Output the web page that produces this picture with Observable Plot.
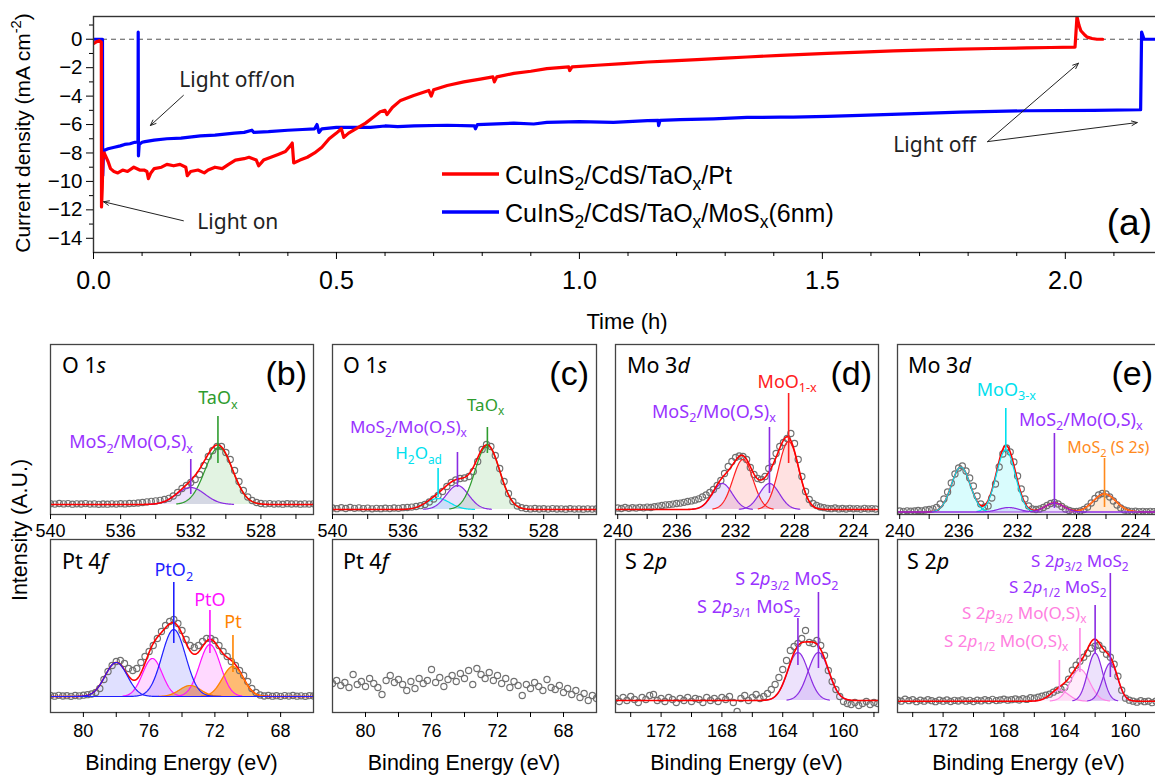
<!DOCTYPE html>
<html><head><meta charset="utf-8">
<script src="https://cdn.jsdelivr.net/npm/d3@7"></script>
<script src="https://cdn.jsdelivr.net/npm/@observablehq/plot@0.6"></script>
<style>
html,body{margin:0;padding:0;background:#fff;overflow:hidden}
#fig{position:relative;width:1155px;height:775px;overflow:hidden;background:#fff}
</style></head><body><div id="fig"></div>
<script>
// ================= DATA =================
// (a) photocurrent vs time  [time (h), current density (mA cm-2)]
const seriesNames = ["CuInS_{2}/CdS/TaO_{x}/Pt", "CuInS_{2}/CdS/TaO_{x}/MoS_{x}(6nm)"];
const ptSeries = [[0,-0.3],[0.005,-0.2],[0.012,-0.1],[0.016,-0.2],[0.0165,-11.8],[0.018,-10.5],[0.0195,-8.1],[0.022,-8.0],[0.03,-8.6],[0.035,-9.1],[0.042,-9.3],[0.05,-9.4],[0.06,-9.2],[0.07,-9.3],[0.083,-9.0],[0.095,-9.2],[0.104,-9.2],[0.11,-9.3],[0.113,-9.8],[0.118,-9.4],[0.125,-9.1],[0.14,-9.0],[0.151,-8.8],[0.165,-8.9],[0.178,-8.8],[0.19,-9.0],[0.193,-9.6],[0.2,-9.3],[0.215,-9.2],[0.228,-9.4],[0.236,-9.2],[0.25,-9.0],[0.265,-9.1],[0.278,-8.8],[0.292,-8.5],[0.31,-8.4],[0.32,-8.3],[0.335,-8.5],[0.34,-8.9],[0.35,-8.5],[0.365,-8.3],[0.38,-8.1],[0.395,-7.9],[0.405,-7.5],[0.409,-7.3],[0.412,-8.7],[0.425,-8.5],[0.44,-8.3],[0.455,-8.0],[0.47,-7.6],[0.485,-7.0],[0.5,-6.6],[0.51,-6.3],[0.515,-6.9],[0.525,-6.6],[0.545,-6.2],[0.56,-5.9],[0.575,-5.5],[0.59,-5.1],[0.6,-5.0],[0.604,-5.3],[0.615,-4.8],[0.632,-4.3],[0.659,-3.95],[0.69,-3.6],[0.695,-4.0],[0.7,-3.55],[0.728,-3.25],[0.762,-3.0],[0.796,-2.8],[0.822,-2.65],[0.825,-3.0],[0.83,-2.65],[0.865,-2.4],[0.9,-2.25],[0.933,-2.07],[0.978,-1.95],[0.98,-2.2],[0.985,-1.95],[1.036,-1.83],[1.09,-1.72],[1.14,-1.6],[1.19,-1.52],[1.242,-1.43],[1.3,-1.33],[1.345,-1.25],[1.414,-1.13],[1.51,-1.0],[1.58,-0.9],[1.646,-0.82],[1.72,-0.75],[1.784,-0.7],[1.85,-0.65],[1.921,-0.61],[1.97,-0.58],[2.02,-0.55],[2.024,1.6],[2.028,1.0],[2.032,0.6],[2.04,0.3],[2.045,0.15],[2.055,0.05],[2.065,0.0],[2.077,0.0]];
const moSeries = [[0,0],[0.005,0],[0.012,0],[0.0185,0],[0.019,-9.6],[0.0205,-8.0],[0.0226,-7.8],[0.03,-7.7],[0.043,-7.6],[0.055,-7.5],[0.064,-7.4],[0.075,-7.35],[0.085,-7.25],[0.0915,-7.2],[0.092,0.5],[0.0925,-8.2],[0.094,-7.4],[0.1,-7.25],[0.106,-7.2],[0.125,-7.1],[0.151,-7.0],[0.18,-6.95],[0.22,-6.8],[0.25,-6.75],[0.29,-6.6],[0.31,-6.55],[0.326,-6.4],[0.33,-6.55],[0.36,-6.5],[0.4,-6.4],[0.43,-6.35],[0.455,-6.3],[0.46,-6.0],[0.464,-6.55],[0.47,-6.3],[0.5,-6.2],[0.53,-6.2],[0.57,-6.2],[0.6,-6.1],[0.626,-6.14],[0.66,-6.1],[0.728,-6.05],[0.784,-6.1],[0.786,-6.3],[0.79,-6.0],[0.865,-5.9],[0.906,-5.96],[0.933,-5.85],[1.0,-5.8],[1.07,-5.85],[1.14,-5.72],[1.162,-5.7],[1.163,-6.07],[1.166,-5.7],[1.207,-5.66],[1.276,-5.6],[1.345,-5.5],[1.414,-5.48],[1.44,-5.48],[1.51,-5.43],[1.578,-5.36],[1.674,-5.25],[1.784,-5.13],[1.921,-5.03],[2.058,-5.0],[2.155,-4.96],[2.157,0.5],[2.162,0.0],[2.2,0.0]];
const timeMajor = [0, 0.5, 1.0, 1.5, 2.0];
const timeMinor = [0.1,0.2,0.3,0.4,0.6,0.7,0.8,0.9,1.1,1.2,1.3,1.4,1.6,1.7,1.8,1.9,2.1];
const currentMajor = [0,-2,-4,-6,-8,-10,-12,-14];
const currentMinor = [1,-1,-3,-5,-7,-9,-11,-13];
const lightNotes = [{t:0.296,j:-2.9,text:"Light off/on"},{t:0.297,j:-12.9,text:"Light on"},{t:1.731,j:-7.48,text:"Light off"}];
const lightArrows = [{t1:0.185,j1:-3.95,t2:0.117,j2:-6.07},{t1:0.185,j1:-12.77,t2:0.0206,j2:-11.43},{t1:1.84,j1:-7.2,t2:2.027,j2:-1.69},{t1:1.84,j1:-7.2,t2:2.148,j2:-5.86}];

// XPS measured intensities (arb. units above baseline), on the instrument energy grid
const bO1sIntensity = [0.8,0.4,1.0,0.6,0.9,0.3,0.7,0.5,0.9,0.4,0.6,0.2,0.5,0.3,0.7,0.4,0.8,0.6,1.0,1.2,1.5,2.0,2.6,3.1,3.6,4.2,5.0,6.2,8.5,12,16,19,22,25,30,39,48,54,58,58,52,45,34,23,14,7.5,4,2,1.0,0.6,0.9,0.4,0.7,0.3,0.8,0.5,0.7,0.3,0.6,0.4,0.7];
const cO1sIntensity = [1.5,0.8,1.8,1.0,2.0,1.2,1.6,0.9,1.4,0.7,1.2,0.8,1.3,0.9,1.5,1.2,1.8,2.0,2.4,3.0,3.8,5.0,7.5,10.5,14,18,23,27,29.5,31,31.5,33,38,48,60,65,63,54,41,28,16,8,3.5,1.8,1.0,0.6,1.0,0.5,0.8,0.4,0.9,0.5,0.7,0.3,0.8,0.4,0.6,0.3,0.7,0.4,0.6];
const dMo3dIntensity = [1.5,1.0,2.0,1.2,1.8,1.4,2.2,1.6,2.4,2.0,2.8,3.4,4.0,4.6,4.9,5.4,6.0,6.4,7.2,8.0,8.6,9.5,10.7,12.5,14.5,17,20,24,29,36,43,48,52,53.5,53,50,42,35,31,30,33,41,48,56,63,67,71,76,66,50,33,18,10,6,4,2.5,1.8,1.2,0.8,1.5,0.6,1.0,0.5,1.2,0.7,0.9,0.4,1.1,0.6,0.9,0.5];
const eMo3dIntensity = [1.0,0.6,1.2,0.8,1.0,1.5,1.2,2.0,2.5,3.2,4.5,8,13,20,29,38,44,46,41,34,26,16,8,5,6,14,28,45,58,64,60,50,36,23,13,6,3,2.5,3,4.5,6.5,8.5,9.5,8,5.5,3,1.5,0.5,0.5,1.0,2.5,5,9,13.5,17,18.5,18,15,11,7,4,2,1,0.6,0.8,0.4,0.7,0.3,0.6,0.4,0.8];
const bPt4fIntensity = [1.0,0.3,1.2,0.5,0.8,0.2,1.0,0.6,1.3,1.8,2.5,4.0,8,17,25,31,35,36,33,28,26,28,34,40,45,51,58,65,71,75,77,73,66,57,51,49,51,55,58,58,56,51,45,40,35,31,26,21,15,8,4,1.5,0.5,1.0,0.3,0.8,0.2,0.9,0.4,1.0,0.3,0.7,0.2,0.8,0.5];
const cPt4fIntensity = [13,16,11,14,9,22,12,15,10,18,13,9,2,16,21,14,17,12,6,15,8,18,13,16,27,14,19,10,17,21,15,23,18,26,12,28,22,18,24,16,21,13,18,9,15,11,1,12,8,14,10,6,17,9,7,11,4,8,2,6,-1,3,-4,1,-2];
const dS2pIntensity = [2,-1,3,0,4,1,-2,3,1,5,6,0,2,-1,3,1,-2,2,0,3,-1,2,1,-2,3,0,2,-1,3,1,4,-2,-11,2,5,0,3,6,2,4,7,11,16,23,31,40,50,54,57,62,70,58,57,60,55,45,30,19,11,4,-1,-3,-4,-2,-5,-3,-1,-4,-2,-3];
const eS2pIntensity = [1,0,2,0.5,1.5,-0.5,1,0,1.5,0.5,-0.5,1,0,1.2,-0.3,0.8,0.2,1.4,0,0.9,-0.4,1,0.3,1.5,0.5,1.8,0.6,1.2,2,1,1.5,2.2,1.2,2.5,1.8,3.5,3,4,5,6,7,9,11,12,14,22,31,36,40,44,48,53,55,56,52,47,44,37,25,11,3,1,0,-1,0.5,-0.5,0,-1.5,0,-1];

// fitted components: center (eV), height, FWHM (eV)
const bO1sPeaks = [{species:"TaOx",center:530.4,height:57,fwhm:1.85},{species:"MoS2/Mo(O,S)x",center:532.0,height:17,fwhm:1.9}];
const cO1sPeaks = [{species:"H2Oad",center:534.0,height:11,fwhm:1.6},{species:"MoS2/Mo(O,S)x",center:532.9,height:24,fwhm:1.5},{species:"TaOx",center:531.2,height:64,fwhm:1.65}];
const dMo3dPeaks = [{species:"MoS2/Mo(O,S)x",center:232.9,height:26,fwhm:1.6},{species:"MoO1-x",center:231.5,height:50,fwhm:1.6},{species:"MoS2/Mo(O,S)x",center:229.7,height:26,fwhm:1.6},{species:"MoO1-x",center:228.4,height:68,fwhm:1.6}];
const eMo3dPeaks = [{species:"MoO3-x",center:235.85,height:45,fwhm:1.5},{species:"MoO3-x",center:232.8,height:62,fwhm:1.5},{species:"MoS2 (S 2s)",center:226.1,height:18,fwhm:1.8},{species:"MoS2/Mo(O,S)x",center:232.6,height:4.5,fwhm:1.6},{species:"MoS2/Mo(O,S)x",center:229.5,height:9,fwhm:1.5}];
const bPt4fPeaks = [{species:"PtO",center:72.3,height:52,fwhm:1.5},{species:"PtO",center:75.8,height:38,fwhm:1.4},{species:"Pt",center:70.9,height:30,fwhm:1.5},{species:"Pt",center:73.5,height:11,fwhm:1.5},{species:"PtO2",center:74.5,height:67,fwhm:1.7},{species:"PtO2",center:78.0,height:34,fwhm:1.6}];
const cPt4fPeaks = [];
const dS2pPeaks = [{species:"S2p MoS2",center:163.0,height:48,fwhm:1.6},{species:"S2p MoS2",center:161.65,height:48,fwhm:1.6}];
const eS2pPeaks = [{species:"S2p Mo(O,S)x",center:164.35,height:11,fwhm:1.4},{species:"S2p Mo(O,S)x",center:163.0,height:32,fwhm:1.5},{species:"S2p MoS2",center:162.0,height:48,fwhm:1.15},{species:"S2p MoS2",center:161.0,height:38,fwhm:1.15}];

// peak assignments (marker line energy and extent, label text)
const bO1sMarkers = [{species:"TaOx",e:530.45,y1:41,y2:88},{species:"MoS2/Mo(O,S)x",e:532.0,y1:10,y2:45}];
const bO1sLabels = [{species:"TaOx",e:530.45,y:106,text:"TaO_{x}"},{species:"MoS2/Mo(O,S)x",e:535.4,y:62,text:"MoS_{2}/Mo(O,S)_{x}"}];
const cO1sMarkers = [{species:"TaOx",e:531.2,y1:56,y2:82},{species:"MoS2/Mo(O,S)x",e:532.9,y1:22,y2:57},{species:"H2Oad",e:534.0,y1:12,y2:41}];
const cO1sLabels = [{species:"TaOx",e:531.3,y:104,text:"TaO_{x}"},{species:"MoS2/Mo(O,S)x",e:535.69,y:82,text:"MoS_{2}/Mo(O,S)_{x}"},{species:"H2Oad",e:535.11,y:55.5,text:"H_{2}O_{ad}"}];
const dMo3dMarkers = [{species:"MoO1-x",e:228.4,y1:46,y2:116},{species:"MoS2/Mo(O,S)x",e:229.7,y1:16,y2:82}];
const dMo3dLabels = [{species:"MoO1-x",e:228.5,y:127.5,text:"MoO_{1-x}"},{species:"MoS2/Mo(O,S)x",e:233.47,y:97.5,text:"MoS_{2}/Mo(O,S)_{x}"}];
const eMo3dMarkers = [{species:"MoO3-x",e:232.8,y1:61.5,y2:103.5},{species:"MoS2/Mo(O,S)x",e:229.5,y1:3.5,y2:78.5},{species:"MoS2 (S 2s)",e:226.1,y1:4.5,y2:53.5}];
const eMo3dLabels = [{species:"MoO3-x",e:232.76,y:122,text:"MoO_{3-x}"},{species:"MoS2/Mo(O,S)x",e:227.71,y:92,text:"MoS_{2}/Mo(O,S)_{x}"},{species:"MoS2 (S 2s)",e:228.63,y:64.5,text:"MoS_{2} (S 2*{s})",align:"start"}];
const bPt4fMarkers = [{species:"PtO2",e:74.5,y1:53,y2:114},{species:"PtO",e:72.3,y1:43,y2:86},{species:"Pt",e:70.9,y1:24,y2:61}];
const bPt4fLabels = [{species:"PtO2",e:74.5,y:126,text:"PtO_{2}"},{species:"PtO",e:72.3,y:96,text:"PtO"},{species:"Pt",e:70.9,y:74,text:"Pt"}];
const dS2pMarkers = [{species:"S2p MoS2",e:161.65,y1:32,y2:108},{species:"S2p MoS2",e:163.0,y1:35,y2:82}];
const dS2pLabels = [{species:"S2p MoS2",e:160.33,y:121,text:"S 2*{p}_{3/2} MoS_{2}",align:"end"},{species:"S2p MoS2",e:162.83,y:93.5,text:"S 2*{p}_{3/1} MoS_{2}",align:"end"}];
const eS2pMarkers = [{species:"S2p MoS2",e:161.0,y1:23.7,y2:127.7},{species:"S2p MoS2",e:162.0,y1:47.7,y2:95.7},{species:"S2p Mo(O,S)x",e:163.0,y1:28.7,y2:72.7},{species:"S2p Mo(O,S)x",e:164.35,y1:10.7,y2:40.7}];
const eS2pLabels = [{species:"S2p MoS2",e:159.8,y:140,text:"S 2*{p}_{3/2} MoS_{2}",align:"end"},{species:"S2p MoS2",e:161.25,y:114,text:"S 2*{p}_{1/2} MoS_{2}",align:"end"},{species:"S2p Mo(O,S)x",e:162.57,y:88,text:"S 2*{p}_{3/2} Mo(O,S)_{x}",align:"end"},{species:"S2p Mo(O,S)x",e:163.76,y:59.7,text:"S 2*{p}_{1/2} Mo(O,S)_{x}",align:"end"}];

// ================= STYLE =================
const FONT = "'Liberation Sans', Arial, sans-serif";
const LFONT = "'Noto Sans', 'Open Sans', sans-serif";
const speciesStyle = {
  "TaOx": {stroke:"#2e9c2e", fill:"#4cb34c", op:0.16},
  "MoS2/Mo(O,S)x": {stroke:"#8a2be2", fill:"#a56cf0", op:0.2},
  "H2Oad": {stroke:"#00e0ee", fill:"#00e0ee", op:0.16},
  "MoO1-x": {stroke:"#ff2020", fill:"#ff6a6a", op:0.2},
  "MoO3-x": {stroke:"#00e0ee", fill:"#00e8f0", op:0.15},
  "MoS2 (S 2s)": {stroke:"#ff8a1c", fill:"#ffa040", op:0.22},
  "PtO2": {stroke:"#1f1fff", fill:"#7070ff", op:0.22},
  "PtO": {stroke:"#ff10ff", fill:"#ff50ff", op:0.22},
  "Pt": {stroke:"#ff8400", fill:"#ff8400", op:0.55},
  "S2p MoS2": {stroke:"#8a2be2", fill:"#a56cf0", op:0.2},
  "S2p Mo(O,S)x": {stroke:"#ff85e6", fill:"#ff9cec", op:0.2}
};
const labelColor = {"MoS2/Mo(O,S)x":"#9933ff","S2p MoS2":"#9933ff","S2p Mo(O,S)x":"#ff80e0"};

// ================= HELPERS =================
const svgNS = "http://www.w3.org/2000/svg";
function enrich(root) {
  root.querySelectorAll("text").forEach(t => {
    const s = t.textContent;
    if (!/[_^*]\{/.test(s)) return;
    const holder = t.closest("[font-size]");
    const fs = parseFloat(holder ? holder.getAttribute("font-size") : 16) || 16;
    while (t.firstChild) t.removeChild(t.firstChild);
    let cur = 0;
    const add = (str, kind) => {
      if (!str) return;
      const sp = document.createElementNS(svgNS, "tspan");
      let target = 0;
      if (kind === "_") { target = 0.26 * fs; sp.setAttribute("font-size", 0.7 * fs); }
      else if (kind === "^") { target = -0.42 * fs; sp.setAttribute("font-size", 0.7 * fs); }
      else if (kind === "*") { sp.setAttribute("font-style", "italic"); }
      if (target !== cur) sp.setAttribute("dy", (target - cur).toFixed(2));
      cur = target;
      sp.textContent = str;
      t.appendChild(sp);
    };
    const re = /([_^*])\{([^}]*)\}/g;
    let last = 0, m;
    while ((m = re.exec(s))) { add(s.slice(last, m.index), ""); add(m[2], m[1]); last = re.lastIndex; }
    add(s.slice(last), "");
  });
}
const fig = document.getElementById("fig");
function put(node, left, top) {
  node.style.position = "absolute";
  node.style.left = left + "px";
  node.style.top = top + "px";
  enrich(node);
  fig.appendChild(node);
}
const baseStyle = {background:"transparent", overflow:"visible", maxWidth:"none", fontFamily:FONT, color:"#000"};
const minus = d => String(d).replace("-", "\u2212");

// ================= PANEL (a) =================
const plotA = Plot.plot({
  width: 1172, height: 300, marginLeft: 93, marginTop: 16, marginRight: 10, marginBottom: 48,
  x: {domain: [0, 2.2], label: null}, y: {domain: [-15, 1.6], label: null},
  style: baseStyle,
  marks: [
    Plot.ruleY([0], {stroke:"#555", strokeDasharray:"5,4", strokeWidth:1}),
    Plot.line(moSeries, {x: d => d[0], y: d => d[1], stroke:"#0000ff", strokeWidth:3.2, clip:true}),
    Plot.line(ptSeries, {x: d => d[0], y: d => d[1], stroke:"#ff0000", strokeWidth:3.2, clip:true}),
    Plot.arrow(lightArrows, {x1:"t1", y1:"j1", x2:"t2", y2:"j2", stroke:"#222", strokeWidth:1, headLength:9, headAngle:45}),
    Plot.text(lightNotes, {x:"t", y:"j", text:"text", fontSize:21, fontFamily:LFONT, fill:"#222"}),
    Plot.frame({stroke:"#333", strokeWidth:1.4}),
    Plot.axisX({ticks: timeMajor, tickSize:7, tickPadding:12, fontSize:25, tickFormat: d => d.toFixed(1), label:null}),
    Plot.axisX({ticks: timeMinor, tickSize:4, tickFormat: () => "", label:null}),
    Plot.axisY({ticks: currentMajor, tickSize:7, tickPadding:4, fontSize:20.5, tickFormat: minus, label:null}),
    Plot.axisY({ticks: currentMinor, tickSize:4, tickFormat: () => "", label:null})
  ]
});
put(plotA, 0, 0);

// ================= XPS PANELS =================
const gauss = (pk, e) => pk.height * Math.exp(-4 * Math.LN2 * ((e - pk.center) / pk.fwhm) ** 2);
function xpsPanel(p) {
  const [L, T, R, B] = p.frame;
  const pts = p.intensity.map((v, i) => ({e: p.start - i * p.step, v}));
  const grid = d3.range(p.xDomain[0], p.xDomain[1], -0.03).concat([p.xDomain[1]]);
  const comps = p.peaks.map(pk => {
    const full = (p.fullSpan || []).includes(pk.species);
    return {pk, pts: grid.filter(e => full || Math.abs(e - pk.center) <= 1.3 * pk.fwhm).map(e => ({e, v: gauss(pk, e)}))};
  });
  const env = p.peaks.length ? grid.map(e => ({e, v: d3.sum(p.peaks, pk => gauss(pk, e))})) : [];
  const marks = [];
  for (const c of comps) {
    const st = speciesStyle[c.pk.species];
    marks.push(Plot.areaY(c.pts, {x:"e", y:"v", fill: st.fill, fillOpacity: st.op, clip:true}));
  }
  marks.push(Plot.dot(pts, {x:"e", y:"v", r:3.1, stroke:"#707070", strokeWidth:1.15, fill:"none", clip:true}));
  const compLines = comps.map(c => Plot.line(c.pts, {x:"e", y:"v", stroke: speciesStyle[c.pk.species].stroke, strokeWidth:1.2, clip:true}));
  const envLine = env.length ? [Plot.line(env, {x:"e", y:"v", stroke:"#ff0000", strokeWidth:1.6, clip:true})] : [];
  if (p.componentsOnTop) marks.push(...envLine, ...compLines); else marks.push(...compLines, ...envLine);
  for (const m of (p.markers || [])) {
    marks.push(Plot.ruleX([m], {x:"e", y1:"y1", y2:"y2", stroke: speciesStyle[m.species].stroke, strokeWidth:1.6}));
  }
  const sizeFor = sp => (p.labelSizeBySpecies && p.labelSizeBySpecies[sp]) || p.labelSize || 18;
  for (const l of (p.labels || [])) {
    marks.push(Plot.text([l], {x:"e", y:"y", text:"text", fill: labelColor[l.species] || speciesStyle[l.species].stroke,
      fontSize: sizeFor(l.species), fontFamily:LFONT, textAnchor: l.align || "middle"}));
  }
  marks.push(Plot.frame({stroke:"#444", strokeWidth:1.3}));
  marks.push(Plot.axisX({ticks: p.major, tickSize:5, tickPadding: p.pad, fontSize:18, label:null}));
  marks.push(Plot.axisX({ticks: p.minor, tickSize:5, tickFormat: () => "", label:null}));
  const node = Plot.plot({
    width: R - L + 20, height: B - T + 50, marginLeft:10, marginRight:10, marginTop:10, marginBottom:40,
    x: {domain: p.xDomain, label:null}, y: {domain: p.yDomain, axis:null, label:null},
    style: baseStyle, marks
  });
  put(node, L - 10, T - 10);
}
const top1 = 344, bot1 = 514, top2 = 539, bot2 = 712;
const cols = [[50,313],[332,596],[615,878],[897,1160]];
xpsPanel({frame:[cols[0][0],top1,cols[0][1],bot1], xDomain:[540,525], yDomain:[-10,160], major:[540,536,532,528], minor:[538,534,530,526], pad:5,
  start:540, step:0.25, intensity:bO1sIntensity, peaks:bO1sPeaks, markers:bO1sMarkers, labels:bO1sLabels});
xpsPanel({frame:[cols[1][0],top1,cols[1][1],bot1], xDomain:[540,525], yDomain:[-5,165], major:[540,536,532,528], minor:[538,534,530,526], pad:5,
  start:540, step:0.25, intensity:cO1sIntensity, peaks:cO1sPeaks, markers:cO1sMarkers, labels:cO1sLabels, labelSize:17});
xpsPanel({frame:[cols[2][0],top1,cols[2][1],bot1], xDomain:[240.15,222.3], yDomain:[-5,165], major:[240,236,232,228,224], minor:[238,234,230,226], pad:5,
  start:240, step:0.25, intensity:dMo3dIntensity, peaks:dMo3dPeaks, markers:dMo3dMarkers, labels:dMo3dLabels});
xpsPanel({frame:[cols[3][0],top1,cols[3][1],bot1], xDomain:[240.15,222.3], yDomain:[-2.5,167.5], major:[240,236,232,228,224], minor:[238,234,230,226], pad:5,
  start:240, step:0.25, intensity:eMo3dIntensity, peaks:eMo3dPeaks, markers:eMo3dMarkers, labels:eMo3dLabels, fullSpan:["MoS2/Mo(O,S)x"], componentsOnTop:true,
  labelSizeBySpecies:{"MoS2 (S 2s)":16}});
xpsPanel({frame:[cols[0][0],top2,cols[0][1],bot2], xDomain:[82,66], yDomain:[-16,157], major:[80,76,72,68], minor:[78,74,70], pad:7,
  start:82, step:0.25, intensity:bPt4fIntensity, peaks:bPt4fPeaks, markers:bPt4fMarkers, labels:bPt4fLabels, fullSpan:["PtO2"], componentsOnTop:true});
xpsPanel({frame:[cols[1][0],top2,cols[1][1],bot2], xDomain:[82,66], yDomain:[-16,157], major:[80,76,72,68], minor:[78,74,70], pad:7,
  start:82, step:0.25, intensity:cPt4fIntensity, peaks:cPt4fPeaks});
xpsPanel({frame:[cols[2][0],top2,cols[2][1],bot2], xDomain:[175,157.7], yDomain:[-12,161], major:[172,168,164,160], minor:[174,170,166,162,158], pad:7,
  start:175, step:0.25, intensity:dS2pIntensity, peaks:dS2pPeaks, markers:dS2pMarkers, labels:dS2pLabels});
xpsPanel({frame:[cols[3][0],top2,cols[3][1],bot2], xDomain:[175,157.7], yDomain:[-11.3,161.7], major:[172,168,164,160], minor:[174,170,166,162,158], pad:7,
  start:175, step:0.25, intensity:eS2pIntensity, peaks:eS2pPeaks, markers:eS2pMarkers, labels:eS2pLabels, labelSize:17});

// ================= OVERLAY TEXT / LEGEND =================
const ov = d3.create("svg").attr("width", 1155).attr("height", 775).attr("font-family", FONT);
function txt(x, y, s, size, o = {}) {
  const t = ov.append("text").attr("x", x).attr("y", y).attr("font-size", size).attr("fill", o.fill || "#000").text(s);
  if (o.anchor) t.attr("text-anchor", o.anchor);
  if (o.rotate) t.attr("transform", `rotate(-90 ${x} ${y})`);
  if (o.family) t.attr("font-family", o.family);
  return t;
}
// legend
const legendColors = ["#ff0000", "#0000ff"];
seriesNames.forEach((name, i) => {
  const y = 174 + i * 38;
  ov.append("line").attr("x1", 442).attr("x2", 499).attr("y1", y).attr("y2", y).attr("stroke", legendColors[i]).attr("stroke-width", 3.5);
  txt(505, y + 9.5, name, 25);
});
txt(1152, 235, "(a)", 37, {anchor:"end"});
txt(30, 133, "Current density (mA cm^{-2})", 21, {anchor:"middle", rotate:true});
txt(627, 329, "Time (h)", 22, {anchor:"middle"});
txt(27, 530, "Intensity (A.U.)", 21.5, {anchor:"middle", rotate:true});
cols.forEach(c => txt((c[0] + c[1]) / 2, 770, "Binding Energy (eV)", 21.5, {anchor:"middle"}));
const panelTitles = [["O 1*{s}", 62, 373], ["O 1*{s}", 343, 373], ["Mo 3*{d}", 627, 373], ["Mo 3*{d}", 908, 373],
  ["Pt 4*{f}", 62, 569], ["Pt 4*{f}", 343, 569], ["S 2*{p}", 625, 569], ["S 2*{p}", 907, 569]];
panelTitles.forEach(([s, x, y]) => txt(x, y, s, 21.5, {family: LFONT}));
[["(b)", 307], ["(c)", 589], ["(d)", 872], ["(e)", 1153]].forEach(([s, x]) => txt(x, 385, s, 34, {anchor:"end"}));
const ovNode = ov.node();
ovNode.style.pointerEvents = "none";
put(ovNode, 0, 0);
</script></body></html>
